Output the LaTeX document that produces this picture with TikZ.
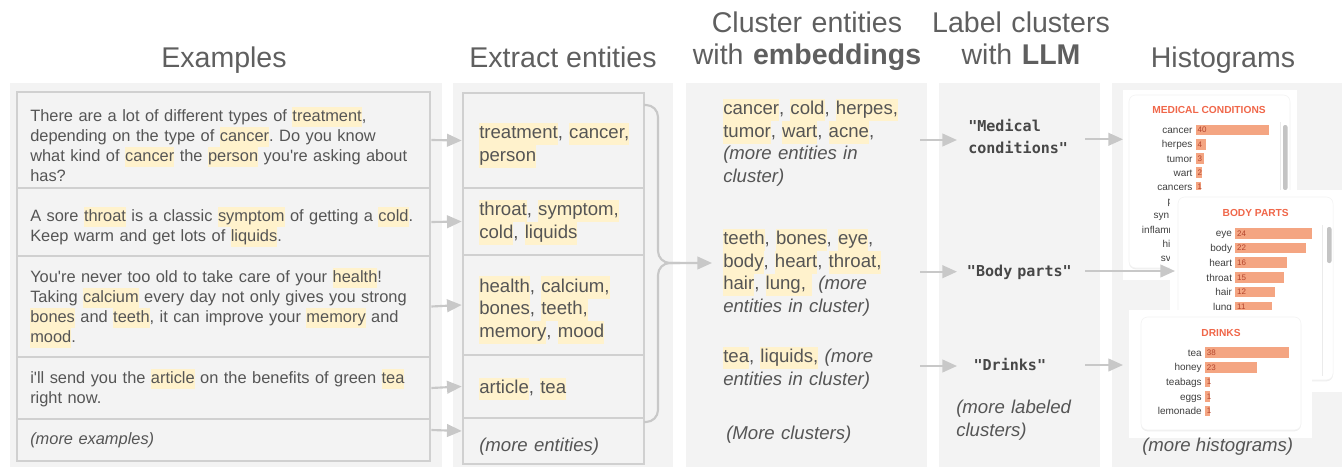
\documentclass[tikz,border=0pt]{standalone}
\usepackage{fontspec}
\setmainfont{Liberation Sans}
\setmonofont{DejaVu Sans Mono}
\usetikzlibrary{arrows.meta,fit,shadows}
\frenchspacing

\definecolor{panelgray}{HTML}{F3F3F3}
\definecolor{boxline}{HTML}{D0D0D0}
\definecolor{arrowgray}{HTML}{C8C8C8}
\definecolor{textgray}{HTML}{555555}
\definecolor{headgray}{HTML}{5F5F5F}
\definecolor{hlyellow}{HTML}{FFF2CC}
\definecolor{barsalmon}{HTML}{F4A582}
\definecolor{titlered}{HTML}{F0674A}
\definecolor{numred}{HTML}{B4442C}
\definecolor{thumbgray}{HTML}{C4C4C4}

\newcommand{\hdfont}{\fontsize{21.4pt}{24pt}\selectfont}
\newcommand{\exfont}{\fontsize{12.3pt}{15pt}\selectfont}
\newcommand{\enfont}{\fontsize{13.95pt}{16.9pt}\selectfont}
\newcommand{\lbfont}{\fontsize{11.3pt}{16.7pt}\selectfont\ttfamily\bfseries}
\newcommand{\hl}[1]{{\setlength{\fboxsep}{0pt}\colorbox{hlyellow}{\strut#1}}}
% one row of a histogram: name, bar start, y, bar end, label, count
\newcommand{\histrow}[6]{%
  \fill[barsalmon] (#2,#3-5.3) rectangle (#4,#3+5.3);
  \node[histlbl] (#1) at (#2-3,#3+3.5) {#5};
  \node[histnum] (#1n) at (#2+1.6,#3+2.8) {#6};
}

\tikzset{
  panel/.style={fill=panelgray},
  rowbox/.style={draw=boxline, line width=2pt, inner sep=0pt},
  flow/.style={draw=arrowgray, line width=1.6pt, -{Triangle[length=11pt,width=9.5pt]}},
  braceline/.style={draw=arrowgray, line width=1.6pt},
  head/.style={anchor=base, inner sep=0pt, font=\hdfont, text=headgray},
  extxt/.style={anchor=base west, inner sep=0pt, text width=320pt, align=left,
    font=\exfont, text=textgray},
  entxt/.style={anchor=base west, inner sep=0pt, text width=220pt, align=left,
    font=\enfont, text=textgray},
  lbtxt/.style={anchor=base west, inner sep=0pt, text width=150pt, align=left,
    font=\lbfont, text=black!72},
  shot/.style={fill=white},
  card/.style={fill=white, draw=black!5, rounded corners=5pt,
    drop shadow={shadow xshift=0pt, shadow yshift=-1pt, opacity=.12}},
  histtitle/.style={anchor=base, inner sep=0pt, font=\fontsize{7.65pt}{9pt}\selectfont\bfseries,
    text=titlered},
  histlbl/.style={anchor=base east, inner sep=0pt, font=\fontsize{7.5pt}{9pt}\selectfont,
    text=black!75},
  histnum/.style={anchor=base west, inner sep=0pt, font=\fontsize{6pt}{7pt}\selectfont,
    text=numred},
  thumb/.style={fill=thumbgray, rounded corners=1.5pt}
}

\begin{document}
\begin{tikzpicture}[x=0.75pt,y=-0.75pt]
  \useasboundingbox (0,0) rectangle (1342,467);

  % column backgrounds
  \fill[panel] (10,83) rectangle (442,467);
  \fill[panel] (453,83) rectangle (673,467);
  \fill[panel] (686,83) rectangle (927,467);
  \fill[panel] (939,83) rectangle (1100,467);
  \fill[panel] (1112,83) rectangle (1342,467);

  % headers
  \node[head] (hex) at (224,68) {Examples};
  \node[head] (hen) at (563,68) {Extract entities};
  \node[head, text width=200pt, align=center] (hcl) at (807,33)
    {Cluster entities\\ with \textbf{embeddings}};
  \node[head, text width=150pt, align=center] (hlb) at (1021,33)
    {Label clusters\\ with \textbf{LLM}};
  \node[head] (hhi) at (1223,68) {Histograms};

  % examples
  \node[rowbox, fit={(17,92) (430,188)}] (ex1) {};
  \node[rowbox, fit={(17,188) (430,256)}] (ex2) {};
  \node[rowbox, fit={(17,256) (430,357)}] (ex3) {};
  \node[rowbox, fit={(17,357) (430,419)}] (ex4) {};
  \node[rowbox, fit={(17,419) (430,461)}] (ex5) {};
  \node[extxt] (ex1t) at (30,121) {There are a lot of different types of \hl{treatment},\\
    depending on the type of \hl{cancer}. Do you know\\
    what kind of \hl{cancer} the \hl{person} you\textquotesingle re asking about\\ has?};
  \node[extxt] (ex2t) at (30,221) {A sore \hl{throat} is a classic \hl{symptom} of getting a \hl{cold}.\\
    Keep warm and get lots of \hl{liquids}.};
  \node[extxt] (ex3t) at (30,282) {You\textquotesingle re never too old to take care of your \hl{health}!\\
    Taking \hl{calcium} every day not only gives you strong\\
    \hl{bones} and \hl{teeth}, it can improve your \hl{memory} and\\ \hl{mood}.};
  \node[extxt] (ex4t) at (30,383) {i\textquotesingle ll send you the \hl{article} on the benefits of green \hl{tea}\\
    right now.};
  \node[extxt] (ex5t) at (30,444) {\textit{(more examples)}};

  % entities
  \node[rowbox, fit={(463,93) (644,188)}] (en1) {};
  \node[rowbox, fit={(463,188) (644,255)}] (en2) {};
  \node[rowbox, fit={(463,255) (644,355)}] (en3) {};
  \node[rowbox, fit={(463,355) (644,418)}] (en4) {};
  \node[rowbox, fit={(463,418) (644,464)}] (en5) {};
  \node[entxt] (en1t) at (479,138.5) {\hl{treatment}, \hl{cancer,}\\ \hl{person}};
  \node[entxt] (en2t) at (479,215.5) {\hl{throat}, \hl{symptom,}\\ \hl{cold}, \hl{liquids}};
  \node[entxt] (en3t) at (479,292) {\hl{health}, \hl{calcium,}\\ \hl{bones}, \hl{teeth,}\\
    \hl{memory}, \hl{mood}};
  \node[entxt] (en4t) at (479,393.5) {\hl{article}, \hl{tea}};
  \node[entxt] (en5t) at (479,451.5) {\textit{(more entities)}};

  \draw[flow] (ex1.east) -- (en1.west);
  \draw[flow] (ex2.east) -- (en2.west);
  \draw[flow] (ex3.east) -- (en3.west);
  \draw[flow] (ex4.east) -- (en4.west);
  \draw[flow] ([yshift=7.5pt]ex5.east) -- ([yshift=7.5pt]en5.west);

  % clusters
  \node[entxt] (cl1) at (723,114.5) {\hl{cancer}, \hl{cold}, \hl{herpes,}\\
    \hl{tumor}, \hl{wart}, \hl{acne},\\ \textit{(more entities in}\\ \textit{cluster)}};
  \node[entxt] (cl2) at (723,244.5) {\hl{teeth}, \hl{bones}, \hl{eye},\\
    \hl{body}, \hl{heart}, \hl{throat,}\\ \hl{hair}, \hl{lung,\ } \textit{(more}\\
    \textit{entities in cluster)}};
  \node[entxt] (cl3) at (723,362.5) {\hl{tea}, \hl{liquids,} \textit{(more}\\
    \textit{entities in cluster)}};
  \node[entxt] (cl4) at (726,439) {\textit{(More clusters)}};

  \coordinate (bt) at (644,105);
  \coordinate (bb) at (644,422);
  \coordinate (cl2in) at (712,263);
  \draw[flow, rounded corners=9pt] (bt) -- (658,105) -- (658,263) -- (cl2in);
  \draw[braceline, rounded corners=9pt] (bb) -- (658,422) -- (658,263) -- (680,263);

  % labels
  \node[lbtxt] (lb1) at (968,131) {"Medical\\ conditions"};
  \node[lbtxt] (lb2) at (966.7,276) {"Body parts"};
  \node[lbtxt] (lb3) at (973.3,370) {"Drinks"};
  \node[entxt] (lb4) at (956,413.5) {\textit{(more labeled}\\ \textit{clusters)}};

  \coordinate (cl1out) at (920,140);
  \coordinate (lb1in) at (957,140);
  \coordinate (cl2out) at (920,271.7);
  \coordinate (lb2in) at (957,271.7);
  \coordinate (cl3out) at (920,366);
  \coordinate (lb3in) at (957,366);
  \draw[flow] (cl1out) -- (lb1in);
  \draw[flow] (cl2out) -- (lb2in);
  \draw[flow] (cl3out) -- (lb3in);

  % histogram: medical conditions
  \fill[shot] (1123,90) rectangle (1297,280);
  \draw[card] (1129,95) rectangle (1290,268);
  \node[histtitle] (medt) at (1209,113.7) {MEDICAL CONDITIONS};
  \draw[black!8] (1280.5,122) -- (1280.5,262);
  \fill[thumb] (1283,125) rectangle (1287.5,190);
  \histrow{mc1}{1195.7}{130}{1269}{cancer}{40}
  \histrow{mc2}{1195.7}{144.3}{1205.7}{herpes}{4}
  \histrow{mc3}{1195.7}{158.5}{1203.7}{tumor}{3}
  \histrow{mc4}{1195.7}{172.7}{1201.7}{wart}{2}
  \histrow{mc5}{1195.7}{186.9}{1200.7}{cancers}{1}
  \node[histlbl, anchor=base west] (mc6) at (1167.3,204.6) {p};
  \node[histlbl, anchor=base west] (mc7) at (1153.3,218.8) {syn};
  \node[histlbl, anchor=base west] (mc8) at (1141.7,233) {inflamm};
  \node[histlbl, anchor=base west] (mc9) at (1162.3,247.2) {hi};
  \node[histlbl, anchor=base west] (mc10) at (1160.7,261.4) {sv};

  % histogram: body parts
  \fill[shot] (1170,190) rectangle (1342,392);
  \draw[card] (1178,197) rectangle (1333,380);
  \node[histtitle] (bodt) at (1255.7,216) {BODY PARTS};
  \draw[black!8] (1322,225) -- (1322,376);
  \fill[thumb] (1327,227) rectangle (1331.5,263);
  \histrow{bp1}{1235.3}{233.3}{1311.7}{eye}{24}
  \histrow{bp2}{1235.3}{248.1}{1305.7}{body}{22}
  \histrow{bp3}{1235.3}{262.7}{1287}{heart}{16}
  \histrow{bp4}{1235.3}{277.5}{1284.3}{throat}{15}
  \histrow{bp5}{1235.3}{292.1}{1274.7}{hair}{12}
  \histrow{bp6}{1235.3}{306.8}{1271.7}{lung}{11}

  % histogram: drinks
  \fill[shot] (1129,310) rectangle (1312,438);
  \draw[card] (1141,317) rectangle (1301,430);
  \node[histtitle] (drt) at (1221,336) {DRINKS};
  \histrow{dr1}{1205}{352.7}{1289.3}{tea}{38}
  \histrow{dr2}{1205}{367.3}{1256.7}{honey}{23}
  \histrow{dr3}{1205}{381.9}{1209.7}{teabags}{1}
  \histrow{dr4}{1205}{396.5}{1209.7}{eggs}{1}
  \histrow{dr5}{1205}{411.1}{1209.7}{lemonade}{1}
  \node[entxt, anchor=base, text width=] (hi4) at (1217.7,451) {\textit{(more histograms)}};

  \coordinate (lb1out) at (1085,139.3);
  \coordinate (mcin) at (1123,139.3);
  \coordinate (lb2out) at (1085,271);
  \coordinate (bpin) at (1175,271);
  \coordinate (lb3out) at (1085,365);
  \coordinate (drin) at (1123,365);
  \draw[flow] (lb1out) -- (mcin);
  \draw[flow] (lb2out) -- (bpin);
  \draw[flow] (lb3out) -- (drin);
\end{tikzpicture}
\end{document}
